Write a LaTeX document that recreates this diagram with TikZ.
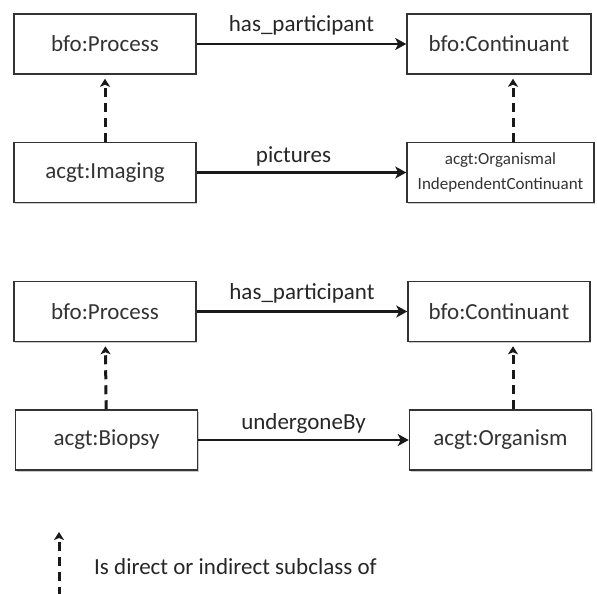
\documentclass[tikz,border=0pt]{standalone}
\usepackage{fontspec}
\setmainfont{Carlito}
\usetikzlibrary{arrows.meta,shadows}

\tikzset{
  cls/.style={draw=black!80, line width=1.5pt, fill=white, minimum width=182pt,
    minimum height=60pt, inner sep=0pt, align=center,
    font=\fontsize{23}{27}\selectfont, text=black!80,
    drop shadow={shadow xshift=1pt, shadow yshift=-1.5pt, fill=black!35, opacity=0.6}},
  rel/.style={line width=2.6pt, draw=black!90, -{Stealth[length=11pt, width=12pt, inset=3pt]}},
  isa/.style={line width=3pt, draw=black!90, dash pattern=on 9pt off 6pt,
    -{Stealth[length=8pt, width=10pt, inset=2pt]}, shorten >=4pt},
  lbl/.style={font=\fontsize{23}{27}\selectfont, text=black!85, inner sep=0pt}
}

\begin{document}
\begin{tikzpicture}[x=1pt, y=-1pt]
  \useasboundingbox (0,0) rectangle (597,594);

  % first example: imaging
  \node[cls] (p1) at (105,44) {bfo:Process};
  \node[cls, minimum width=184pt] (c1) at (499,44) {bfo:Continuant};
  \node[cls] (im) at (105,172.5) {acgt:Imaging};
  \node[cls, minimum width=187pt, font=\fontsize{17}{25}\selectfont] (oic) at (500.5,172.5)
    {acgt:Organismal\\IndependentContinuant};

  \draw[rel] (p1) -- (c1) node[lbl, midway, above=7pt] {has\_participant};
  \draw[rel] (im) -- (oic) node[lbl, midway, above=5pt, xshift=-8pt] {pictures};
  \draw[isa] (im) -- (p1);
  \draw[isa] (oic.north -| 513,0) -- (c1.south -| 513,0);

  % second example: biopsy
  \node[cls] (p2) at (105,311.5) {bfo:Process};
  \node[cls] (c2) at (499,311.5) {bfo:Continuant};
  \node[cls] (bi) at (106.5,440) {acgt:Biopsy};
  \node[cls] (org) at (500.5,440) {acgt:Organism};

  \draw[rel] (p2) -- (c2) node[lbl, midway, above=7pt] {has\_participant};
  \draw[rel] (bi) -- (org) node[lbl, midway, above=5pt] {undergoneBy};
  \draw[isa] (bi) -- (p2);
  \draw[isa] (org.north -| 513,0) -- (c2.south -| 513,0);

  % legend
  \coordinate (lgA) at (59,596);
  \coordinate (lgB) at (59,528);
  \draw[isa] (lgA) -- (lgB);
  \node[lbl, anchor=west] (lgT) at (94,567) {Is direct or indirect subclass of};
\end{tikzpicture}
\end{document}
